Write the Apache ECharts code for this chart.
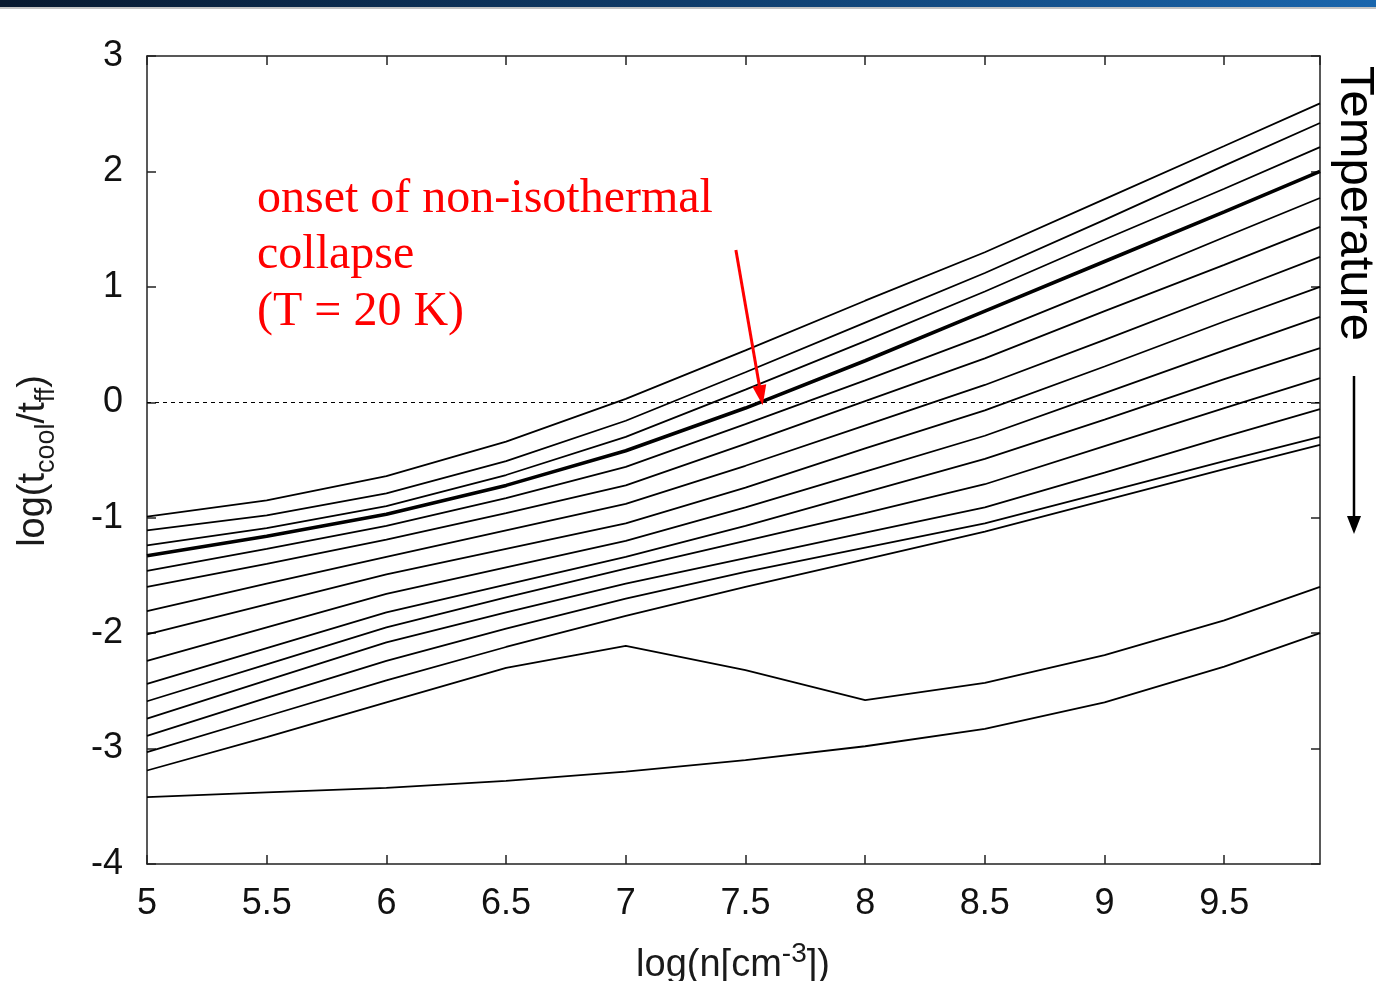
<!DOCTYPE html>
<html>
<head>
<meta charset="utf-8">
<title>log(t_cool/t_ff) versus density</title>
<script src="https://cdn.jsdelivr.net/npm/echarts@6/dist/echarts.min.js"></script>
<style>
  html, body { margin: 0; padding: 0; background: #ffffff; }
  #chart { width: 1376px; height: 981px; }
</style>
</head>
<body>
<div id="chart"></div>
<script>
// Density grid: log(n [cm^-3])
const logN = [5, 5.5, 6, 6.5, 7, 7.5, 8, 8.5, 9, 9.5, 9.9];

// log(t_cool / t_ff), one curve per temperature (coolest curve first)
const c01 = [-0.99, -0.85, -0.64, -0.34, 0.03, 0.45, 0.88, 1.30, 1.76, 2.22, 2.59];
const c02 = [-1.11, -0.98, -0.79, -0.51, -0.16, 0.26, 0.69, 1.12, 1.58, 2.05, 2.42];
const c03 = [-1.24, -1.09, -0.90, -0.63, -0.30, 0.11, 0.53, 0.96, 1.41, 1.85, 2.21];
const cT20K = [-1.33, -1.16, -0.97, -0.72, -0.42, -0.05, 0.36, 0.79, 1.22, 1.65, 2.00];
const c05 = [-1.46, -1.27, -1.07, -0.83, -0.56, -0.19, 0.19, 0.58, 1.00, 1.43, 1.77];
const c06 = [-1.60, -1.40, -1.19, -0.96, -0.72, -0.36, 0.01, 0.38, 0.79, 1.19, 1.52];
const c07 = [-1.81, -1.57, -1.34, -1.11, -0.88, -0.55, -0.20, 0.15, 0.54, 0.94, 1.26];
const c08 = [-2.01, -1.75, -1.49, -1.27, -1.05, -0.74, -0.40, -0.07, 0.31, 0.70, 1.00];
const c09 = [-2.24, -1.95, -1.66, -1.43, -1.20, -0.91, -0.60, -0.29, 0.08, 0.45, 0.74];
const c10 = [-2.44, -2.13, -1.82, -1.58, -1.34, -1.07, -0.78, -0.49, -0.15, 0.20, 0.47];
const c11 = [-2.59, -2.27, -1.95, -1.69, -1.44, -1.20, -0.96, -0.71, -0.38, -0.05, 0.21];
const c12 = [-2.74, -2.41, -2.08, -1.82, -1.57, -1.35, -1.13, -0.91, -0.61, -0.30, -0.06];
const c13 = [-2.89, -2.56, -2.24, -1.96, -1.70, -1.47, -1.26, -1.05, -0.78, -0.51, -0.30];
const c14 = [-3.03, -2.72, -2.41, -2.12, -1.85, -1.60, -1.36, -1.12, -0.85, -0.58, -0.37];
const c15 = [-3.19, -2.90, -2.60, -2.30, -2.11, -2.32, -2.58, -2.43, -2.19, -1.89, -1.60];
const c16 = [-3.42, -3.38, -3.34, -3.28, -3.20, -3.10, -2.98, -2.83, -2.60, -2.29, -2.00];

const curves = [
  { name: 'c01', values: c01 }, { name: 'c02', values: c02 }, { name: 'c03', values: c03 },
  { name: 'T = 20 K', values: cT20K, thick: true },
  { name: 'c05', values: c05 }, { name: 'c06', values: c06 }, { name: 'c07', values: c07 },
  { name: 'c08', values: c08 }, { name: 'c09', values: c09 }, { name: 'c10', values: c10 },
  { name: 'c11', values: c11 }, { name: 'c12', values: c12 }, { name: 'c13', values: c13 },
  { name: 'c14', values: c14 }, { name: 'c15', values: c15 }, { name: 'c16', values: c16 }
];

// Axis ranges and tick steps
const xRange = [5, 9.9], xStep = 0.5;
const yRange = [-4, 3], yStep = 1;

// Equal-time reference level and the annotation arrow (data coordinates)
const equalTimeLevel = 0;
const arrowFrom = [7.46, 1.32];
const arrowTo = [7.565, 0.06];

const SANS = '"Liberation Sans", Arial, Helvetica, sans-serif';
const SERIF = '"Liberation Serif", "Times New Roman", serif';
const INK = '#111111';

const chart = echarts.init(document.getElementById('chart'), null, { renderer: 'canvas' });

function axisBase(extra) {
  return Object.assign({
    type: 'value',
    axisLine: { show: true, onZero: false, lineStyle: { color: '#222', width: 1.5 } },
    axisTick: { show: true, inside: true, length: 9, lineStyle: { color: '#222', width: 1.5 } },
    splitLine: { show: false },
    axisLabel: { show: false }
  }, extra);
}

const lineSeries = curves.map(c => ({
  type: 'line',
  name: c.name,
  data: logN.map((x, i) => [x, c.values[i]]),
  showSymbol: false,
  symbol: 'none',
  silent: true,
  z: c.thick ? 4 : 3,
  lineStyle: { color: '#000', width: c.thick ? 3.6 : 1.8 }
}));

// Dashed t_cool = t_ff line
lineSeries.push({
  type: 'line', name: 'equal', data: [], silent: true,
  markLine: {
    silent: true, symbol: 'none', animation: false,
    label: { show: false },
    lineStyle: { color: '#000', width: 1, type: [4, 4] },
    data: [{ yAxis: equalTimeLevel }]
  }
});

// Red arrow pointing at the onset of non-isothermal collapse
lineSeries.push({
  type: 'line', name: 'onset', data: [], silent: true,
  markLine: {
    silent: true, animation: false,
    symbol: ['none', 'triangle'],
    symbolSize: [14, 20],
    label: { show: false },
    lineStyle: { color: '#ff0000', width: 3, type: 'solid' },
    data: [[{ coord: arrowFrom }, { coord: arrowTo }]]
  }
});

const option = {
  animation: false,
  backgroundColor: '#ffffff',
  grid: { left: 147, right: 56, top: 56, bottom: 117, containLabel: false, outerBoundsMode: 'none' },
  xAxis: [
    axisBase({
      position: 'bottom', min: xRange[0], max: xRange[1], interval: xStep,
      axisLabel: { show: true, margin: 22, fontSize: 36, color: INK, fontFamily: SANS, showMaxLabel: false }
    }),
    axisBase({ position: 'top', min: xRange[0], max: xRange[1], interval: xStep })
  ],
  yAxis: [
    axisBase({
      position: 'left', min: yRange[0], max: yRange[1], interval: yStep,
      axisLabel: { show: true, margin: 24, fontSize: 36, color: INK, fontFamily: SANS }
    }),
    axisBase({ position: 'right', min: yRange[0], max: yRange[1], interval: yStep })
  ],
  series: lineSeries,
  graphic: [
    // header band
    {
      type: 'rect', z: 10, shape: { x: 0, y: 0, width: 1376, height: 7 },
      style: { fill: new echarts.graphic.LinearGradient(0, 0, 1, 0, [
        { offset: 0, color: '#08192f' }, { offset: 0.5, color: '#0f3c6a' }, { offset: 1, color: '#1a66ad' }
      ]) }
    },
    { type: 'rect', z: 10, shape: { x: 0, y: 7, width: 1376, height: 2 }, style: { fill: '#c4c4c4' } },
    // annotation text
    {
      type: 'text', z: 10, x: 257, y: 171,
      style: {
        text: 'onset of non-isothermal\ncollapse\n(T = 20 K)',
        font: '48px ' + SERIF, fill: '#ff0000', lineHeight: 56.5,
        align: 'left', verticalAlign: 'top'
      }
    },
    // y-axis title
    {
      type: 'text', z: 10, x: 34, y: 461, rotation: Math.PI / 2,
      style: {
        text: '{n|log(t}{s|cool}{n|/t}{s|ff}{n|)}',
        align: 'center', verticalAlign: 'middle', fill: '#1a1a1a',
        rich: {
          n: { fontSize: 38, fontFamily: SANS, lineHeight: 52, verticalAlign: 'middle', fill: '#1a1a1a' },
          s: { fontSize: 27, fontFamily: SANS, lineHeight: 52, verticalAlign: 'bottom', fill: '#1a1a1a' }
        }
      }
    },
    // x-axis title
    {
      type: 'text', z: 10, x: 733, y: 966,
      style: {
        text: '{n|log(n[cm}{p|-3}{n|])}',
        align: 'center', verticalAlign: 'middle', fill: '#1a1a1a',
        rich: {
          n: { fontSize: 38, fontFamily: SANS, lineHeight: 52, verticalAlign: 'middle', fill: '#1a1a1a' },
          p: { fontSize: 28, fontFamily: SANS, lineHeight: 52, verticalAlign: 'top', fill: '#1a1a1a' }
        }
      }
    },
    // temperature direction
    {
      type: 'text', z: 10, x: 1379, y: 66, rotation: -Math.PI / 2,
      style: { text: 'Temperature', fontSize: 49, fontFamily: SANS, fill: '#000', align: 'left', verticalAlign: 'top' }
    },
    { type: 'line', z: 10, shape: { x1: 1354, y1: 376, x2: 1354, y2: 520 }, style: { stroke: '#000', lineWidth: 2.5 } },
    { type: 'polygon', z: 10, shape: { points: [[1354, 534], [1347, 516], [1361, 516]] }, style: { fill: '#000' } }
  ]
};

chart.setOption(option);
</script>
</body>
</html>
